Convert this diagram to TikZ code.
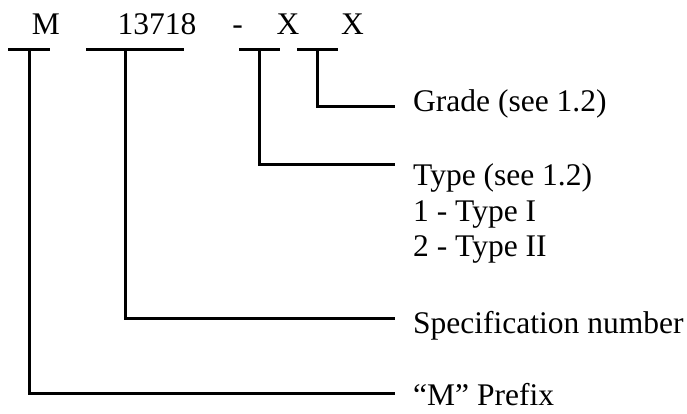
\documentclass[tikz,border=0pt]{standalone}
\usepackage{fontspec}
\setmainfont{Liberation Serif}

\begin{document}
\begin{tikzpicture}[x=1pt, y=-1pt,
    every node/.style={inner sep=0pt, font=\fontsize{31.5}{36}\selectfont},
    code/.style={anchor=base},
    desc/.style={anchor=base west},
    lead/.style={line width=3pt, line cap=rect, line join=miter}]

    % Fix the page size
    \useasboundingbox (0,0) rectangle (687,414);

    % Code letters along the top
    \node[code] (cM)   at (46,35)    {M};
    \node[code] (cNum) at (157,35)   {13718};
    \node[code] (cDsh) at (237.5,35) {-};
    \node[code] (cTyp) at (288,35)   {X};
    \node[code] (cGrd) at (352.5,35) {X};

    % Descriptions on the right
    \node[desc] (grade)  at (413,112) {Grade (see 1.2)};
    \node[desc] (type)   at (413,185) {Type (see 1.2)};
    \node[desc] (typeI)  at (413,221) {1 - Type I};
    \node[desc] (typeII) at (413,256) {2 - Type II};
    \node[desc] (spec)   at (413,333) {Specification number};
    \node[desc] (prefix) at (413,405) {“M” Prefix};

    % Bars under the code letters
    \coordinate (mL) at (9,50);   \coordinate (mR) at (48,50);
    \coordinate (nL) at (87,50);  \coordinate (nR) at (182,50);
    \coordinate (tL) at (240,50); \coordinate (tR) at (278,50);
    \coordinate (gL) at (298,50); \coordinate (gR) at (336,50);

    % Tee points and line ends
    \coordinate (mT) at (29,50);
    \coordinate (nT) at (125,50);
    \coordinate (tT) at (259,50);
    \coordinate (gT) at (317,50);
    \coordinate (mE) at (393,393);
    \coordinate (nE) at (393,318);
    \coordinate (tE) at (393,165);
    \coordinate (gE) at (393,107);

    % Draw the bars
    \draw[lead] (mL) -- (mR);
    \draw[lead] (nL) -- (nR);
    \draw[lead] (tL) -- (tR);
    \draw[lead] (gL) -- (gR);

    % Draw the leaders to the descriptions
    \draw[lead] (mT) |- (mE);
    \draw[lead] (nT) |- (nE);
    \draw[lead] (tT) |- (tE);
    \draw[lead] (gT) |- (gE);

\end{tikzpicture}
\end{document}
